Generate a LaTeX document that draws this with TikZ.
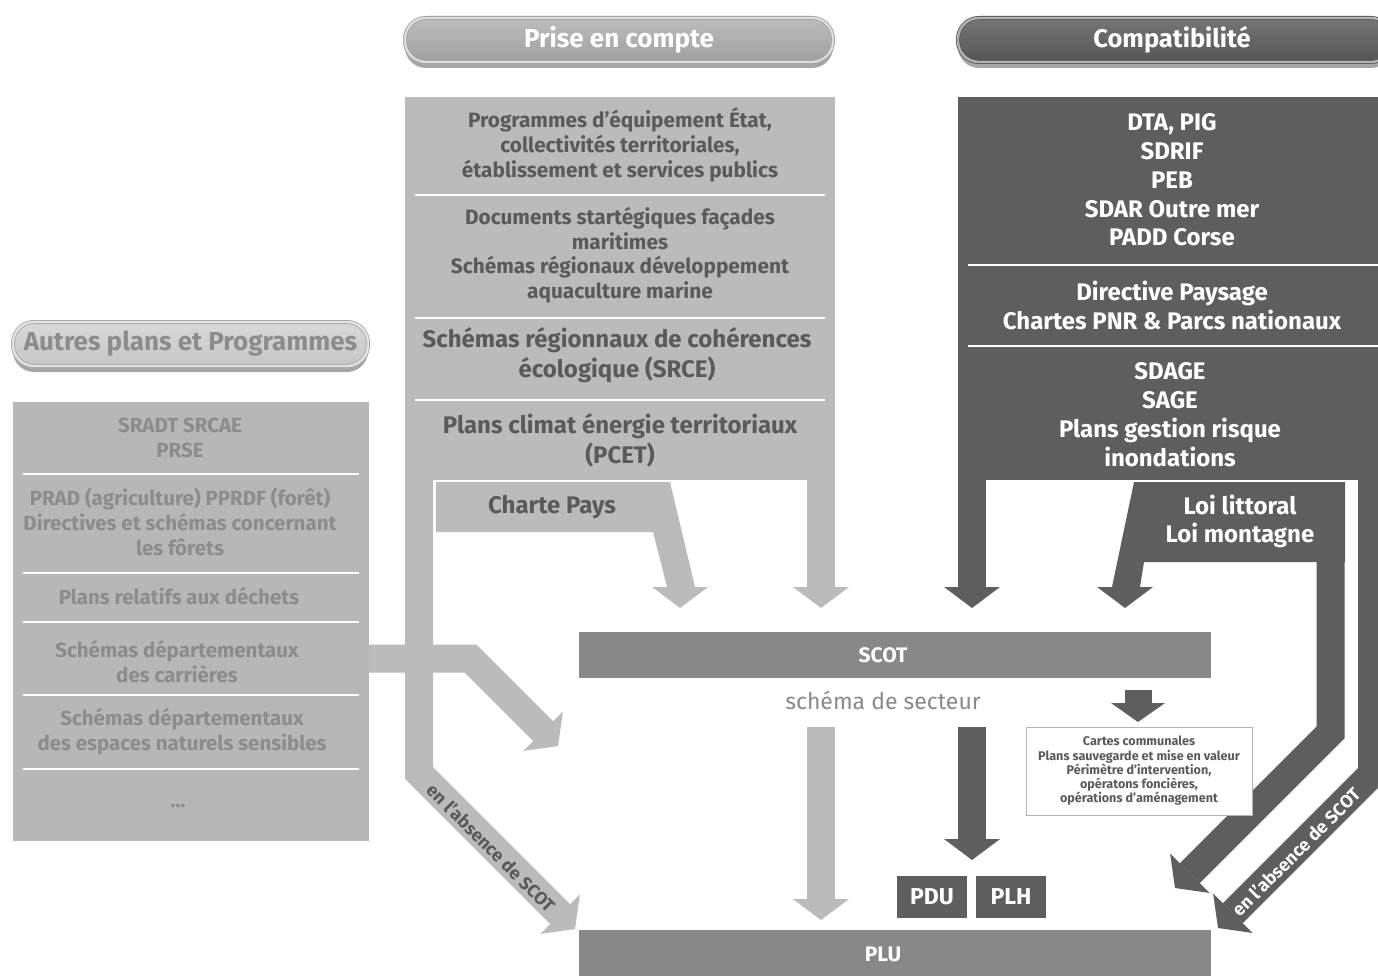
\documentclass[tikz,border=0pt]{standalone}
\usepackage{fontspec}
\setmainfont{Fira Sans}
\usetikzlibrary{arrows.meta,shadows}
\definecolor{lightfill}{HTML}{BBBBBB}
\definecolor{leftfill}{HTML}{B7B7B7}
\definecolor{darkfill}{HTML}{5E5E5E}
\definecolor{midtext}{HTML}{5A5A5A}
\definecolor{lefttext}{HTML}{8C8C8C}
\definecolor{scotfill}{HTML}{888888}
\definecolor{sectext}{HTML}{8A8A8A}
\definecolor{smallborder}{HTML}{B5B5B5}
\newcommand{\fsz}[2]{\fontsize{#1pt}{#2pt}\selectfont}
\tikzset{
  block/.style={rectangle, inner sep=0pt, outer sep=0pt},
  pill/.style={rectangle, rounded corners=21pt, minimum height=44pt, inner sep=0pt,
     line width=0.8pt, double distance=2.4pt,
     drop shadow={shadow xshift=0pt, shadow yshift=-6pt, opacity=0.35, fill=black}},
  lighttxt/.style={text=midtext, align=center, inner sep=0pt},
  darktxt/.style={text=white, align=center, inner sep=0pt},
  lefttxt/.style={text=lefttext, align=center, inner sep=0pt},
  sepline/.style={white, line width=1.6pt},
  blkarrow/.style={line width=28pt, line join=miter,
     -{Triangle[width=56pt,length=21pt,line width=0pt]}},
  smallarrow/.style={line width=27pt, line join=miter,
     -{Triangle[width=54pt,length=19pt,line width=0pt]}},
}
\begin{document}
\begin{tikzpicture}[x=1pt,y=-1pt]
\clip (0,0) rectangle (1378,976);
\fill[white] (0,0) rectangle (1378,976);

% ---------- headers ----------
\node[pill, draw=gray!75, double=gray!28, top color=gray!52, bottom color=gray!75,
      minimum width=428pt, text=white, font=\bfseries\fsz{26}{30}] (hdrA) at (619,40)
      {Prise en compte};
\node[pill, draw=darkfill!90!black, double=gray!60, top color=darkfill!85!white, bottom color=darkfill!90!black,
      minimum width=434pt, text=white, font=\bfseries\fsz{25.5}{30}] (hdrB) at (1175,40)
      {\hspace*{-6pt}Compatibilité};
\node[pill, draw=gray!70, double=gray!22, top color=gray!30, bottom color=gray!45,
      minimum width=355pt, text=lefttext, font=\bfseries\fsz{26}{30}] (hdrC) at (190.5,344)
      {Autres plans et Programmes};

% ---------- arrows (drawn below boxes) ----------
\coordinate (a1s) at (419,478);
\coordinate (a1b) at (419,773);
\coordinate (a1t) at (575,929);
\draw[blkarrow, lightfill] (a1s) -- (a1b) -- (a1t);

\coordinate (a2s) at (821,478);
\coordinate (a2t) at (821,608);
\draw[blkarrow, lightfill] (a2s) -- (a2t);

\coordinate (a3s) at (369,658.5);
\coordinate (a3b) at (470.5,658.5);
\coordinate (a3t) at (558,746);
\draw[blkarrow, lightfill] (a3s) -- (a3b) -- (a3t);

% Charte Pays band with arm
\fill[lightfill] (436,482) -- (670,482) -- (695,587) -- (708,587) -- (680,608)
   -- (652,587) -- (667,587) -- (653,532) -- (436,532) -- cycle;
\node[lighttxt, font=\bfseries\fsz{24}{28}] (charte) at (552,507) {Charte Pays};

\coordinate (b1s) at (972,478);
\coordinate (b1t) at (972,608);
\draw[blkarrow, darkfill] (b1s) -- (b1t);

% Loi littoral band with arm
\fill[darkfill] (1134,482) -- (1345,482) -- (1345,562) -- (1144,562) -- (1140,587)
   -- (1153,587) -- (1125,608) -- (1097,587) -- (1112,587) -- cycle;
\node[darktxt, font=\bfseries\fsz{24}{28}] (loi) at (1240,521) {Loi littoral\\Loi montagne};

\coordinate (b2s) at (1330.5,540);
\coordinate (b2b) at (1330.5,732.5);
\coordinate (b2t) at (1175,888);
\draw[blkarrow, darkfill] (b2s) -- (b2b) -- (b2t);

\coordinate (b3s) at (1372,478);
\coordinate (b3b) at (1372,774);
\coordinate (b3t) at (1218,928);
\draw[blkarrow, darkfill] (b3s) -- (b3b) -- (b3t);

% ---------- main boxes ----------
\node[block, fill=lightfill, minimum width=430pt, minimum height=383pt] (midbox) at (620,288.5) {};
\node[block, fill=darkfill, minimum width=432pt, minimum height=383pt] (rightbox) at (1174,288.5) {};
\node[block, fill=leftfill, minimum width=356pt, minimum height=439pt] (leftbox) at (191,621.5) {};

% middle texts
\node[lighttxt, font=\bfseries\fsz{20.8}{25}] (m1) at (620,145) {Programmes d’équipement État,\\collectivités territoriales,\\établissement et services publics};
\draw[sepline] (415,195) -- (825,195);
\node[lighttxt, font=\bfseries\fsz{20.8}{24.7}] (m2) at (620,255) {Documents startégiques façades\\maritimes\\Schémas régionaux développement\\aquaculture marine};
\draw[sepline] (415,318) -- (825,318);
\node[lighttxt, font=\bfseries\fsz{24}{30}] (m3) at (617,355) {Schémas régionnaux de cohérences\\écologique (SRCE)};
\draw[sepline] (415,400) -- (825,400);
\node[lighttxt, font=\bfseries\fsz{24}{30}] (m4) at (620,440) {Plans climat énergie territoriaux\\(PCET)};

% right texts
\node[darktxt, font=\bfseries\fsz{24}{28.8}] (r1) at (1172,180) {DTA, PIG\\SDRIF\\PEB\\SDAR Outre mer\\PADD Corse};
\draw[sepline] (968,265) -- (1378,265);
\node[darktxt, font=\bfseries\fsz{24}{29}] (r2) at (1172,305.5) {Directive Paysage\\Chartes PNR \& Parcs nationaux};
\draw[sepline] (968,346) -- (1378,346);
\node[darktxt, font=\bfseries\fsz{24}{29}] (r3) at (1170,414.5) {SDAGE\\SAGE\\Plans gestion risque\\inondations};

% left texts
\tikzset{leftfont/.style={font=\bfseries\fsz{20.5}{25}}}
\node[lefttxt, leftfont] (l1) at (180,437.5) {SRADT SRCAE\\PRSE};
\draw[sepline] (23,474) -- (359,474);
\node[lefttxt, leftfont] (l2) at (180,522) {PRAD (agriculture) PPRDF (forêt)\\Directives et schémas concernant\\les fôrets};
\draw[sepline] (23,573) -- (359,573);
\node[lefttxt, leftfont] (l3) at (179,596) {Plans relatifs aux déchets};
\draw[sepline] (23,622) -- (359,622);
\node[lefttxt, leftfont] (l4) at (177,661.5) {Schémas départementaux\\des carrières};
\draw[sepline] (23,695) -- (359,695);
\node[lefttxt, leftfont] (l5) at (182,731.5) {Schémas départementaux\\des espaces naturels sensibles};
\draw[sepline] (23,769) -- (359,769);
\node[lefttxt, leftfont] (l6) at (178,806) {...};

% ---------- SCOT / PLU ----------
\node[block, fill=scotfill, minimum width=632pt, minimum height=46pt] (scot) at (895,655) {};
\node[darktxt, font=\bfseries\fsz{21}{25}] (scotlbl) at (883,655) {SCOT};
\node[text=sectext, inner sep=0pt, font=\fsz{23}{28}] (secteur) at (883,700) {schéma de secteur};

\node[block, fill=scotfill, minimum width=632pt, minimum height=60pt] (plu) at (895,960) {};
\node[darktxt, font=\bfseries\fsz{21}{25}] (plulbl) at (883,954) {PLU};

% arrows below SCOT
\coordinate (c1s) at (821,727);
\coordinate (c1t) at (821,920);
\draw[blkarrow, lightfill] (c1s) -- (c1t);
\coordinate (c2s) at (972,727);
\coordinate (c2t) at (972,860);
\draw[blkarrow, darkfill] (c2s) -- (c2t);
\coordinate (c3s) at (1138,690);
\coordinate (c3t) at (1138,722);
\draw[smallarrow, darkfill] (c3s) -- (c3t);

% PDU PLH
\node[block, fill=darkfill, minimum width=70pt, minimum height=42pt, text=white, font=\bfseries\fsz{23}{28}] (pdu) at (932,897) {PDU};
\node[block, fill=darkfill, minimum width=70pt, minimum height=42pt, text=white, font=\bfseries\fsz{23}{28}] (plh) at (1011,897) {PLH};

% small box
\node[block, draw=smallborder, line width=1pt, fill=white, minimum width=226pt, minimum height=88pt,
      text=midtext, font=\bfseries\fsz{12.6}{14.2}, align=center] (cartes) at (1139,771)
      {Cartes communales\\Plans sauvegarde et mise en valeur\\Périmètre d’intervention,\\opératons foncières,\\opérations d’aménagement};

% rotated labels
\node[lighttxt, rotate=-45, font=\bfseries\fsz{18}{22}] (abs1) at (491,848) {en l’absence de SCOT};
\node[darktxt, rotate=45, font=\bfseries\fsz{18}{22}] (abs2) at (1296,852) {en l’absence de SCOT};
\end{tikzpicture}
\end{document}
